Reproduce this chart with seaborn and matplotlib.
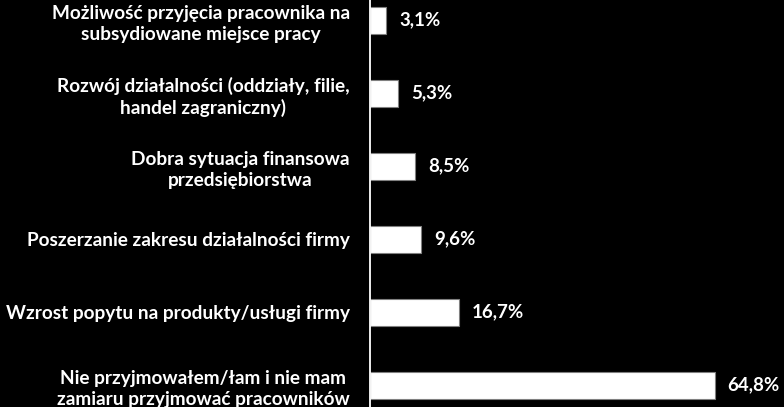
import matplotlib
matplotlib.use("Agg")
import matplotlib.pyplot as plt
import seaborn as sns
import pandas as pd
from matplotlib.ticker import FixedLocator

categories = [
    "Możliwość przyjęcia pracownika na\nsubsydiowane miejsce pracy",
    "Rozwój działalności (oddziały, filie,\nhandel zagraniczny)",
    "Dobra sytuacja finansowa\nprzedsiębiorstwa",
    "Poszerzanie zakresu działalności firmy",
    "Wzrost popytu na produkty/usługi firmy",
    "Nie przyjmowałem/łam i nie mam\nzamiaru przyjmować pracowników",
]
values = [3.1, 5.3, 8.5, 9.6, 16.7, 64.8]
value_labels = ["3,1%", "5,3%", "8,5%", "9,6%", "16,7%", "64,8%"]

df = pd.DataFrame({"kategoria": categories, "wartosc": values})

sns.set_style("dark")
plt.rcParams["font.family"] = ["Lato", "DejaVu Sans"]

fig = plt.figure(figsize=(7.84, 4.07), dpi=100, facecolor="black")
ax = fig.add_axes([370 / 784, -14.5 / 407, 414 / 784, 1.076])
ax.set_facecolor("black")

sns.barplot(data=df, y="kategoria", x="wartosc", orient="h", color="white",
            edgecolor="#808080", linewidth=0.8, width=0.37, saturation=1, ax=ax)

ax.set_xlim(0, 77.8)
ax.set_ylim(len(categories) - 0.5, -0.5)
ax.set_xlabel("")
ax.set_ylabel("")
ax.set_xticks([])
ax.grid(False)

for s in ["top", "right", "bottom"]:
    ax.spines[s].set_visible(False)
ax.spines["left"].set_color("white")
ax.spines["left"].set_linewidth(1.3)

ax.tick_params(axis="y", which="major", length=0, pad=14.5, colors="white",
               labelsize=13.7)
for lbl in ax.get_yticklabels():
    lbl.set_multialignment("center")
    lbl.set_color("white")
    lbl.set_fontweight("bold")
    lbl.set_linespacing(1.3)
ax.yaxis.set_minor_locator(FixedLocator([i + 0.5 for i in range(len(categories) - 1)]))
ax.tick_params(axis="y", which="minor", length=6, width=1.2, color="white", direction="out")

for i, (v, t) in enumerate(zip(values, value_labels)):
    ax.text(v + 2.4, i, t, color="white", va="center", ha="left", fontsize=13.5,
            fontweight="bold")

fig.savefig("out.png", dpi=100, facecolor="black")
